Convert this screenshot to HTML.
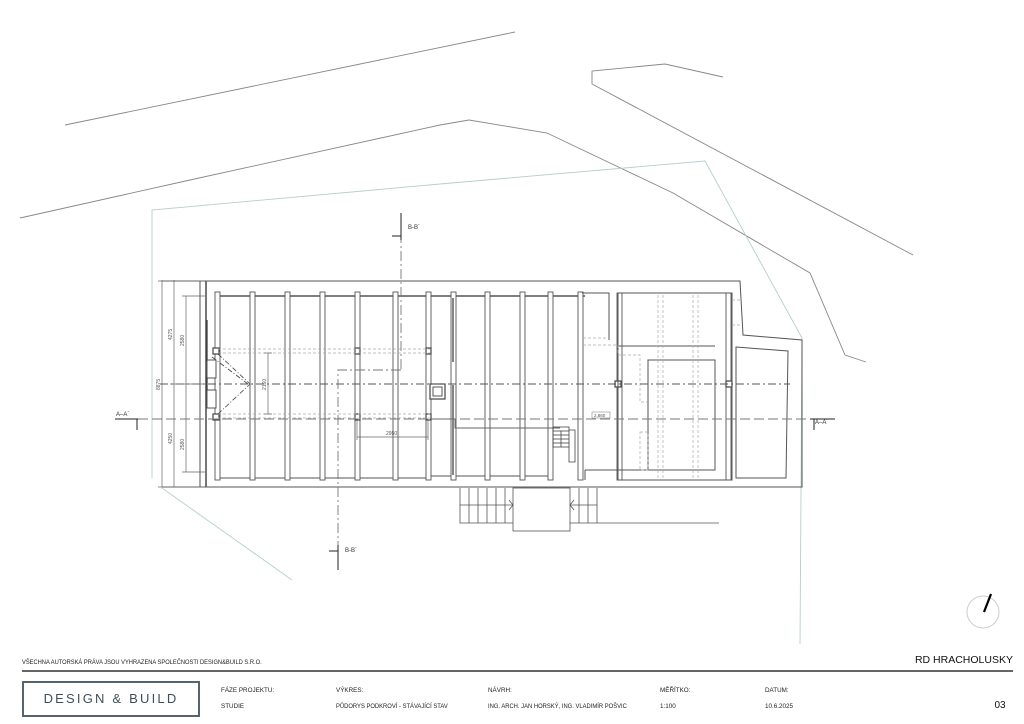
<!DOCTYPE html>
<html><head><meta charset="utf-8"><style>
html,body{margin:0;padding:0;background:#fff;}
svg{display:block;}
text{font-family:"Liberation Sans",sans-serif;}
</style></head><body>
<svg width="1024" height="724" viewBox="0 0 1024 724" xmlns="http://www.w3.org/2000/svg">
<rect width="1024" height="724" fill="#fff"/>
<g fill="none" stroke="#888" stroke-width="0.9">
<polyline points="65,125 515,32"/>
<polyline points="20,218 190,180 440,125 469,120 547,133 673,193 810,273 845,355 866,362"/>
<polyline points="723,77 665,64 592,71 592,84 913,255"/>
</g>
<g fill="none" stroke="#b5cfcf" stroke-width="0.9">
<polyline points="152,478 152,210 440,184 705,161 802,338 800,644"/>
<polyline points="162,488 292,580"/>
</g>
<g fill="none" stroke="#555" stroke-width="1">
<polyline points="162,281 740,281 743,335 802,340 802,487 162,487"/>
<line x1="200" y1="281" x2="200" y2="487"/>
<line x1="206" y1="281" x2="206" y2="487" stroke-width="1.6"/>
<line x1="217" y1="296" x2="585" y2="296" stroke-width="1.4"/>
<line x1="217" y1="478" x2="430" y2="478"/>
<line x1="430" y1="476" x2="550" y2="476"/>
</g>
<g fill="#fff" stroke="#555" stroke-width="0.9">
<rect x="215" y="292" width="5" height="188"/>
<rect x="250" y="292" width="5" height="188"/>
<rect x="285" y="292" width="5" height="188"/>
<rect x="320" y="292" width="5" height="188"/>
<rect x="355" y="292" width="5" height="188"/>
<rect x="393" y="292" width="5" height="188"/>
<rect x="426" y="292" width="5" height="188"/>
<rect x="451" y="292" width="5" height="188"/>
<rect x="485" y="292" width="5" height="188"/>
<rect x="520" y="292" width="5" height="188"/>
<rect x="548" y="292" width="5" height="188"/>
<rect x="578" y="292" width="5" height="188"/>
<rect x="617" y="293" width="5" height="187"/>
<rect x="726" y="293" width="5" height="187"/>
</g>
<g fill="none" stroke="#333" stroke-width="1.2">
<line x1="453" y1="298" x2="453" y2="362"/><line x1="453" y1="385" x2="453" y2="475"/>
<line x1="207" y1="320" x2="207" y2="362"/><line x1="207" y1="375" x2="207" y2="405"/>
</g>
<g fill="#fff" stroke="#444" stroke-width="0.9">
<rect x="207" y="360" width="9" height="18"/><rect x="207" y="390" width="9" height="18"/>
<rect x="213" y="348" width="6" height="6" stroke-width="1.2"/><rect x="213" y="414" width="6" height="6" stroke-width="1.2"/>
<rect x="355" y="348" width="5" height="6" stroke-width="1.2"/><rect x="355" y="414" width="5" height="6" stroke-width="1.2"/>
<rect x="426" y="348" width="5" height="6" stroke-width="1.2"/><rect x="426" y="414" width="5" height="6" stroke-width="1.2"/>
<rect x="615" y="381" width="6" height="6" stroke-width="1.2"/><rect x="726" y="381" width="6" height="6" stroke-width="1.2"/>
<rect x="430" y="384" width="15" height="15" stroke-width="1.2"/><rect x="433" y="387" width="9" height="9"/>
</g>
<g fill="none" stroke="#555" stroke-width="1">
<rect x="618" y="293" width="114" height="187"/>
<polyline points="618,346 715,346"/>
<polyline points="648,470 648,360 715,360 715,470 585,470"/>
<polygon points="736,347 788,351 786,478 736,478"/>
<polyline points="582,293 609,293 609,340"/>
<polyline points="585,470 585,480"/>
</g>
<g fill="none" stroke="#aaa" stroke-width="0.7" stroke-dasharray="3,2">
<line x1="218" y1="349" x2="430" y2="349"/><line x1="218" y1="353" x2="430" y2="353"/>
<line x1="218" y1="414" x2="430" y2="414"/><line x1="218" y1="418" x2="430" y2="418"/>
<polyline points="583,338 609,338"/>
<polyline points="583,345 618,345 618,355 640,355 640,402 648,402"/>
<line x1="658" y1="295" x2="658" y2="480"/><line x1="663" y1="295" x2="663" y2="480"/>
<line x1="693" y1="295" x2="693" y2="480"/><line x1="698" y1="295" x2="698" y2="480"/>
<rect x="640" y="432" width="8" height="38"/>
<line x1="732" y1="325" x2="742" y2="325"/><line x1="732" y1="300" x2="742" y2="300"/>
</g>
<g fill="none" stroke="#444" stroke-width="0.8" stroke-dasharray="5,2,1,2">
<line x1="218" y1="354" x2="250" y2="384"/><line x1="218" y1="414" x2="250" y2="384"/>
<line x1="212" y1="357" x2="248" y2="384"/>
</g>
<g fill="none" stroke="#555" stroke-width="0.9">
<line x1="160" y1="384" x2="790" y2="384" stroke-dasharray="8,3,2,3"/>
<line x1="138" y1="419" x2="810" y2="419" stroke-dasharray="10,4" stroke="#777"/>
<line x1="401" y1="215" x2="401" y2="370" stroke-dasharray="10,3,2,3" stroke="#777"/>
<polyline points="401,370 338,370 338,560" stroke-dasharray="10,3,2,3" stroke="#777"/>
<polyline points="430,419 455,419 455,428 560,428" stroke="#666"/>
</g>
<g fill="none" stroke="#666" stroke-width="0.7">
<line x1="162" y1="280" x2="162" y2="487"/>
<line x1="174" y1="280" x2="174" y2="487"/>
<line x1="186" y1="296" x2="186" y2="472"/>
<line x1="158" y1="281" x2="205" y2="281"/><line x1="158" y1="487" x2="205" y2="487"/>
<line x1="170" y1="384" x2="205" y2="384"/><line x1="182" y1="296" x2="205" y2="296"/><line x1="182" y1="472" x2="205" y2="472"/>
<line x1="268" y1="353" x2="268" y2="414"/><line x1="264" y1="353" x2="272" y2="353"/><line x1="264" y1="414" x2="272" y2="414"/>
<line x1="357" y1="437" x2="428" y2="437"/><line x1="357" y1="420" x2="357" y2="440"/><line x1="428" y1="420" x2="428" y2="440"/>
</g>
<g font-size="5" fill="#555">
<text transform="translate(160,390) rotate(-90)">8875</text>
<text transform="translate(172,340) rotate(-90)">4275</text>
<text transform="translate(172,444) rotate(-90)">4250</text>
<text transform="translate(184,346) rotate(-90)">2580</text>
<text transform="translate(184,450) rotate(-90)">2580</text>
<text transform="translate(266,390) rotate(-90)">2160</text>
<text x="386" y="435">2950</text>
<rect x="592" y="412" width="18" height="6" fill="none" stroke="#777" stroke-width="0.5"/>
<text x="594" y="417" font-size="4.5">2,860</text>
</g>
<g fill="none" stroke="#444" stroke-width="0.8">
<rect x="553" y="427" width="16" height="20"/>
<line x1="553" y1="431" x2="569" y2="431"/><line x1="553" y1="435" x2="569" y2="435"/><line x1="553" y1="439" x2="569" y2="439"/><line x1="553" y1="443" x2="569" y2="443"/>
<line x1="561" y1="431" x2="561" y2="447"/>
<polyline points="569,430 575,430 575,462 569,462 569,447"/>
</g>
<g fill="none" stroke="#555" stroke-width="0.8">
<polyline points="460,488 460,523 513,523"/>
<rect x="513" y="488" width="57" height="43"/>
<polyline points="570,523 719,523"/>
<line x1="469" y1="488" x2="469" y2="523"/><line x1="478" y1="488" x2="478" y2="523"/><line x1="487" y1="488" x2="487" y2="523"/><line x1="496" y1="488" x2="496" y2="523"/><line x1="505" y1="488" x2="505" y2="523"/>
<line x1="579" y1="488" x2="579" y2="523"/><line x1="588" y1="488" x2="588" y2="523"/><line x1="597" y1="488" x2="597" y2="523"/>
<line x1="460" y1="505" x2="513" y2="505"/><line x1="570" y1="505" x2="597" y2="505"/>
<polyline points="509,500 513,505 509,510"/><polyline points="574,500 570,505 574,510"/>
</g>
<g stroke="#222" stroke-width="1" fill="none">
<line x1="401" y1="213" x2="401" y2="240"/><line x1="392" y1="236" x2="401" y2="236"/>
<line x1="338" y1="545" x2="338" y2="570"/><line x1="329" y1="551" x2="338" y2="551"/>
<line x1="115" y1="419" x2="138" y2="419"/><line x1="137" y1="419" x2="137" y2="430"/>
<line x1="810" y1="419" x2="835" y2="419"/><line x1="814" y1="419" x2="814" y2="430"/>
</g>
<g font-size="6" fill="#333">
<text x="408" y="229">B-B´</text><text x="345" y="552">B-B´</text>
<text x="116" y="416">A–A´</text><text x="815" y="424">A–A´</text>
</g>
<circle cx="983" cy="612" r="16" fill="none" stroke="#ccc" stroke-width="1"/>
<line x1="984" y1="612" x2="991" y2="594" stroke="#000" stroke-width="2.2"/>
<text x="22" y="664" font-size="6.2" fill="#222" transform="translate(22,0) scale(0.93,1) translate(-22,0)">VŠECHNA AUTORSKÁ PRÁVA JSOU VYHRAZENA SPOLEČNOSTI DESIGN&amp;BUILD S.R.O.</text>
<text x="1013" y="663" font-size="10.5" fill="#111" text-anchor="end">RD HRACHOLUSKY</text>
<line x1="22" y1="671" x2="1013" y2="671" stroke="#333" stroke-width="1.4"/>
<rect x="23" y="682" width="176" height="34" fill="none" stroke="#556470" stroke-width="2"/>
<text x="111" y="703" font-size="13" fill="#3f4f5a" text-anchor="middle" letter-spacing="2.2">DESIGN &amp; BUILD</text>
<g font-size="6.3" fill="#222">
<text x="221" y="692">FÁZE PROJEKTU:</text><text x="221" y="708">STUDIE</text>
<text x="336" y="692">VÝKRES:</text><text x="336" y="708" transform="translate(336,0) scale(0.93,1) translate(-336,0)">PŮDORYS PODKROVÍ - STÁVAJÍCÍ STAV</text>
<text x="488" y="692">NÁVRH:</text><text x="488" y="708" transform="translate(488,0) scale(0.93,1) translate(-488,0)">ING. ARCH. JAN HORSKÝ, ING. VLADIMÍR POŠVIC</text>
<text x="660" y="692">MĚŘÍTKO:</text><text x="660" y="708">1:100</text>
<text x="765" y="692">DATUM:</text><text x="765" y="708">10.6.2025</text>
</g>
<text x="1000" y="708" font-size="10" fill="#111" text-anchor="middle">03</text>
</svg>
</body></html>
